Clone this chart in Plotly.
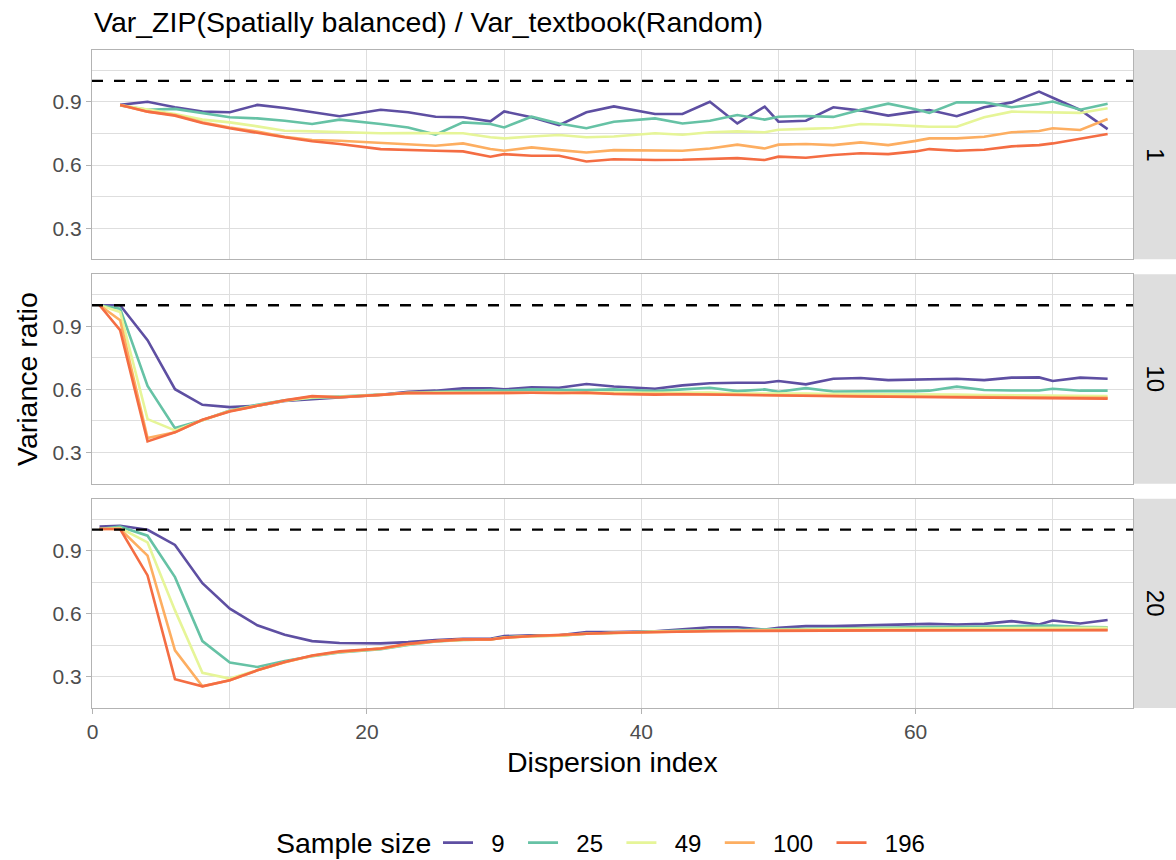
import plotly.graph_objects as go
from plotly.subplots import make_subplots

# ---------------- data ----------------
X_MAIN = [2, 4, 6, 8, 10, 12, 14, 16, 18, 21, 23, 25, 27, 29, 30, 32, 34, 36, 38,
          41, 43, 45, 47, 49, 50, 52, 54, 56, 58, 60, 61, 63, 65, 67, 69, 70, 72, 74]
X_LOW = [0.5] + X_MAIN

panel_labels = ["1", "10", "20"]
sample_sizes = ["9", "25", "49", "100", "196"]

# panel "1"
p1_n9 = [.886, .901, .875, .854, .851, .886, .871, .851, .832, .863, .851, .830, .827, .808, .855, .827, .790, .851, .879,
         .843, .843, .901, .798, .878, .806, .811, .875, .859, .835, .854, .862, .832, .875, .898, .949, .920, .862, .771]
p1_n25 = [.883, .863, .867, .848, .827, .822, .811, .795, .816, .795, .779, .745, .803, .795, .779, .830, .798, .775, .806,
          .822, .798, .811, .838, .816, .830, .833, .829, .863, .892, .865, .848, .898, .898, .875, .890, .902, .863, .892]
p1_n49 = [.886, .865, .843, .816, .803, .784, .763, .760, .756, .751, .752, .752, .751, .732, .727, .736, .743, .732, .736,
          .751, .744, .756, .760, .756, .768, .772, .776, .795, .792, .785, .782, .782, .827, .854, .852, .851, .848, .870]
p1_n100 = [.886, .854, .838, .803, .779, .759, .735, .719, .716, .705, .700, .692, .703, .676, .668, .684, .671, .660, .671,
           .671, .668, .679, .697, .679, .697, .700, .695, .708, .695, .715, .727, .727, .735, .756, .762, .775, .767, .819]
p1_n196 = [.886, .854, .835, .800, .775, .752, .732, .713, .700, .676, .671, .668, .665, .640, .652, .644, .644, .617, .628,
           .624, .625, .628, .633, .624, .640, .635, .648, .656, .652, .665, .676, .668, .673, .689, .695, .703, .724, .748]

# panel "10"
p2_n9 = [1.0, 1.0, .834, .601, .527, .516, .522, .545, .554, .562, .575, .589, .594, .605, .605, .600, .610, .608, .626, .614,
         .603, .619, .629, .632, .632, .640, .624, .651, .654, .644, .648, .649, .651, .644, .656, .657, .640, .656, .651]
p2_n25 = [1.0, .984, .617, .416, .453, .500, .527, .548, .560, .565, .575, .584, .589, .595, .597, .594, .600, .598, .597, .600,
          .592, .600, .608, .592, .600, .589, .606, .590, .592, .592, .592, .594, .613, .597, .595, .595, .603, .594, .594]
p2_n49 = [1.0, .968, .459, .405, .453, .497, .523, .546, .562, .565, .575, .582, .585, .585, .588, .586, .588, .587, .588, .585,
          .584, .584, .585, .580, .581, .580, .580, .578, .578, .576, .576, .575, .575, .573, .572, .570, .570, .569, .568]
p2_n100 = [1.0, .929, .369, .396, .455, .497, .522, .547, .566, .563, .574, .584, .583, .582, .584, .583, .584, .582, .583, .578,
           .578, .578, .576, .574, .573, .572, .571, .569, .568, .567, .566, .565, .564, .563, .562, .561, .561, .560, .560]
p2_n196 = [1.0, .882, .353, .396, .456, .495, .522, .548, .568, .563, .574, .583, .582, .583, .585, .583, .584, .583, .585, .578,
           .575, .577, .575, .572, .571, .570, .569, .567, .566, .565, .564, .563, .562, .561, .560, .558, .557, .556, .556]

# panel "20"
p3_n9 = [1.014, 1.018, .999, .927, .745, .624, .545, .500, .470, .461, .459, .465, .475, .481, .481, .494, .498, .498, .513, .513,
         .517, .525, .536, .536, .525, .533, .541, .541, .544, .549, .552, .552, .549, .552, .565, .549, .568, .554, .570]
p3_n25 = [1.003, 1.014, .971, .774, .470, .368, .347, .375, .398, .416, .432, .452, .468, .476, .478, .488, .494, .496, .505, .510,
          .515, .520, .521, .523, .524, .526, .530, .531, .533, .535, .537, .537, .537, .539, .541, .541, .544, .538, .536]
p3_n49 = [1.003, 1.007, .939, .616, .319, .292, .331, .370, .400, .418, .434, .454, .469, .476, .478, .487, .493, .496, .505, .510,
          .515, .518, .520, .521, .522, .524, .526, .527, .528, .529, .530, .530, .530, .531, .532, .532, .533, .533, .533]
p3_n100 = [1.003, 1.003, .876, .426, .255, .284, .331, .370, .400, .418, .434, .455, .469, .477, .478, .486, .493, .497, .505, .509,
           .514, .516, .518, .519, .520, .521, .522, .522, .523, .523, .523, .523, .523, .523, .524, .524, .524, .523, .523]
p3_n196 = [1.003, 1.003, .782, .289, .255, .284, .331, .371, .402, .421, .435, .457, .470, .478, .478, .486, .494, .498, .505, .510,
           .514, .515, .517, .518, .519, .520, .520, .521, .521, .521, .521, .521, .521, .521, .522, .522, .522, .522, .522]

# ---------------- figure ----------------
colors = ["#5E4FA2", "#66C2A5", "#E6F598", "#FDAE61", "#F46D43"]
panels = [
    (X_MAIN, [p1_n9, p1_n25, p1_n49, p1_n100, p1_n196]),
    (X_LOW, [p2_n9, p2_n25, p2_n49, p2_n100, p2_n196]),
    (X_LOW, [p3_n9, p3_n25, p3_n49, p3_n100, p3_n196]),
]

FONT = "Liberation Sans, Arial, sans-serif"
W, H = 1176, 860
ML, MR, MT, MB = 92, 43, 50, 152
PW = W - ML - MR
PH = H - MT - MB
gap = 15 / PH
NB = "\u00a0"
LEG_Y = 843

fig = make_subplots(rows=3, cols=1, shared_xaxes=True, vertical_spacing=gap)

for r, (xs, series) in enumerate(panels, start=1):
    for i, ys in enumerate(series):
        fig.add_trace(go.Scatter(
            x=xs, y=ys, mode="lines", name=NB * 2 + sample_sizes[i] + NB * 2,
            line=dict(color=colors[i], width=2.6),
            showlegend=(r == 1), legendgroup=sample_sizes[i],
        ), row=r, col=1)

grid = "#DEDEDE"
border = "#B3B3B3"
fig.update_xaxes(range=[-0.05, 75.85], tickvals=[0, 20, 40, 60], showgrid=True,
                 gridcolor=grid, gridwidth=1.1, zeroline=False,
                 showline=True, mirror=True, linecolor=border, linewidth=1.3,
                 minor=dict(tickvals=[10, 30, 50, 70], showgrid=True, gridcolor=grid, gridwidth=0.6, ticks=""),
                 tickfont=dict(family=FONT, size=21, color="#4D4D4D"), ticks="")
fig.update_xaxes(ticks="outside", ticklen=5, tickcolor=border, tickwidth=1.2, row=3, col=1)
fig.update_yaxes(range=[0.152, 1.147], tickvals=[0.3, 0.6, 0.9], ticktext=["0.3", "0.6", "0.9"],
                 showgrid=True, gridcolor=grid, gridwidth=1.1, zeroline=False,
                 showline=True, mirror=True, linecolor=border, linewidth=1.3,
                 minor=dict(tickvals=[0.45, 0.75, 1.05], showgrid=True, gridcolor=grid, gridwidth=0.6, ticks=""),
                 ticks="outside", ticklen=5, tickcolor=border, tickwidth=1.2,
                 tickfont=dict(family=FONT, size=21, color="#4D4D4D"))

shapes = []
annotations = []
for r in range(1, 4):
    yax = "y" if r == 1 else f"y{r}"
    xax = "x" if r == 1 else f"x{r}"
    shapes.append(dict(type="line", xref=f"{xax} domain", yref=yax, x0=0, x1=1, y0=1, y1=1,
                       line=dict(color="black", width=2.3, dash="11px,11px"), layer="above"))
    dom = fig.layout[f"yaxis{'' if r == 1 else r}"].domain
    shapes.append(dict(type="rect", xref="paper", yref="paper",
                       x0=(1134 - ML) / PW, x1=(W + 5 - ML) / PW, y0=dom[0], y1=dom[1],
                       fillcolor="#DEDEDE", line=dict(width=0), layer="below"))
    annotations.append(dict(text=panel_labels[r - 1], xref="paper", yref="paper",
                            x=(1155.5 - ML) / PW, y=(dom[0] + dom[1]) / 2, showarrow=False,
                            textangle=90, font=dict(family=FONT, size=24, color="black"),
                            xanchor="center", yanchor="middle"))

annotations.append(dict(text="Var_ZIP(Spatially balanced) / Var_textbook(Random)", xref="paper", yref="paper",
                        x=0, y=1 + 28 / PH, xanchor="left", yanchor="middle", showarrow=False,
                        font=dict(family=FONT, size=28.5, color="black")))
annotations.append(dict(text="Variance ratio", xref="paper", yref="paper",
                        x=(27 - ML) / PW, y=0.5, xanchor="center", yanchor="middle", showarrow=False,
                        textangle=-90, font=dict(family=FONT, size=28.5, color="black")))
annotations.append(dict(text="Dispersion index", xref="paper", yref="paper",
                        x=0.5, y=-(762 - (H - MB)) / PH, xanchor="center", yanchor="middle", showarrow=False,
                        font=dict(family=FONT, size=28.5, color="black")))
# legend title
annotations.append(dict(text="Sample size", xref="paper", yref="paper",
                        x=(274 - ML) / PW, y=-(LEG_Y - (H - MB)) / PH, xanchor="left", yanchor="middle",
                        showarrow=False, font=dict(family=FONT, size=28.5, color="black")))

fig.update_layout(
    width=W, height=H,
    margin=dict(l=ML, r=MR, t=MT, b=MB, autoexpand=False),
    paper_bgcolor="white", plot_bgcolor="white",
    shapes=shapes, annotations=annotations,
    font=dict(family=FONT, color="black"),
    legend=dict(orientation="h", x=(438 - ML) / PW, xanchor="left", yref="container", y=(H - LEG_Y) / H,
                yanchor="middle", valign="middle",
                font=dict(family=FONT, size=24, color="black"), tracegroupgap=0),
)

fig.write_html("out.html", config={"displayModeBar": False},
               post_script="document.body.style.margin='0px';document.body.style.overflow='hidden';")
